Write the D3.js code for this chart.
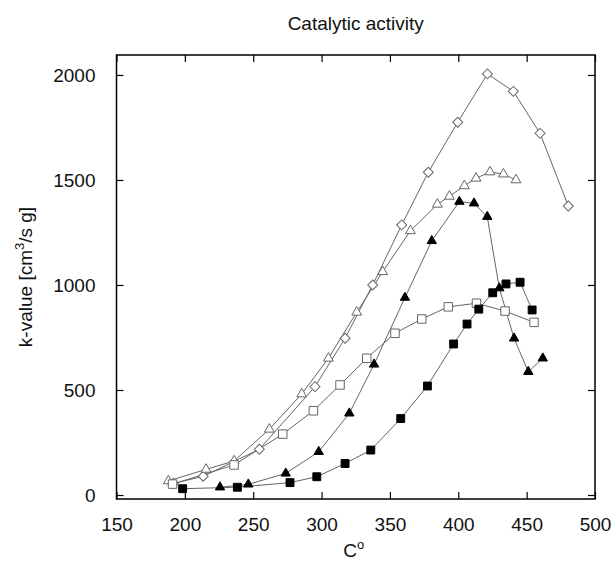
<!DOCTYPE html>
<html><head><meta charset="utf-8">
<script src="https://cdn.jsdelivr.net/npm/d3@7"></script>
<style>body{margin:0;background:#fff}svg text{font-family:"Liberation Sans",Arial,sans-serif;fill:#111}</style>
</head><body>
<svg id="c" width="613" height="561"></svg>
<script>
const xTicks = [150,200,250,300,350,400,450,500];
const yTicks = [0,500,1000,1500,2000];

const diamondX = [191.5,213.4,254.5,295.2,317.2,337.4,358.6,378.1,399.6,421.3,440.3,459.8,480.5];
const diamondY = [55,89,218,516,746,1000,1286,1537,1775,2005,1922,1722,1376];

const openTriX = [187.9,215.5,236,261.8,285.5,305,325.7,344.7,365,384.7,393.5,404.4,413,423.2,433,442.2];
const openTriY = [67,122,162,313,481,651,870,1063,1258,1384,1422,1472,1508,1538,1528,1500];

const openSqX = [191,236,271.6,294,313.5,333,353.7,373.3,392.7,413.3,434.2,455.4];
const openSqY = [52,143,290,401,524,651,770,838,896,913,876,822];

const fillTriX = [225.7,246.4,273.8,297.9,320.3,338.4,361,380.6,400.8,411.5,421.2,430,440.8,451.2,461.8];
const fillTriY = [37,51,103,206,389,622,940,1210,1397,1389,1325,985,746,587,651];

const fillSqX = [198.4,238.4,276.9,296.5,317.2,336,357.9,377.4,396.6,406.4,415,425.2,434.9,445.2,454];
const fillSqY = [30,37,59,87,150,214,364,519,719,814,885,963,1005,1013,881];

const L = 116.5, R = 595, T = 55, B = 499;
const svg = d3.select("#c");
const x = d3.scaleLinear().domain([150,500]).range([L,R]);
const y = d3.scaleLinear().domain([-19,2095]).range([B,T]);

const series = [
  {xs:diamondX, ys:diamondY, sym:d3.symbolSquare, rot:45, size:50, fill:"#fff", stroke:"#666"},
  {xs:openTriX, ys:openTriY, sym:d3.symbolTriangle, rot:0, size:42, fill:"#fff", stroke:"#666"},
  {xs:openSqX, ys:openSqY, sym:d3.symbolSquare, rot:0, size:72, fill:"#fff", stroke:"#666"},
  {xs:fillTriX, ys:fillTriY, sym:d3.symbolTriangle, rot:0, size:38, fill:"#000", stroke:"#000"},
  {xs:fillSqX, ys:fillSqY, sym:d3.symbolSquare, rot:0, size:62, fill:"#000", stroke:"#000"}
];

const line = d3.line().x(d=>x(d[0])).y(d=>y(d[1]));
series.forEach(s=>{
  const pts = s.xs.map((v,i)=>[v,s.ys[i]]);
  svg.append("path").attr("d",line(pts)).attr("fill","none").attr("stroke","#666").attr("stroke-width",1);
});
series.forEach(s=>{
  const pts = s.xs.map((v,i)=>[v,s.ys[i]]);
  svg.append("g").selectAll("path").data(pts).join("path")
    .attr("transform",d=>`translate(${x(d[0])},${y(d[1])}) rotate(${s.rot})`)
    .attr("d",d3.symbol().type(s.sym).size(s.size))
    .attr("fill",s.fill).attr("stroke",s.stroke).attr("stroke-width",1);
});

const tl = 7;
const gB = svg.append("g").attr("transform",`translate(0,${B})`)
  .call(d3.axisBottom(x).tickValues(xTicks).tickSize(-tl).tickPadding(tl+12).tickFormat(d3.format("d")));
const gT = svg.append("g").attr("transform",`translate(0,${T})`)
  .call(d3.axisTop(x).tickValues(xTicks).tickSize(-tl).tickFormat(""));
const gL = svg.append("g").attr("transform",`translate(${L},0)`)
  .call(d3.axisLeft(y).tickValues(yTicks).tickSize(-tl).tickPadding(tl+14).tickFormat(d3.format("d")));
const gR = svg.append("g").attr("transform",`translate(${R},0)`)
  .call(d3.axisRight(y).tickValues(yTicks).tickSize(-tl).tickFormat(""));
[gB,gT,gL,gR].forEach(g=>{
  g.select(".domain").remove();
  g.selectAll(".tick line").attr("stroke","#000").attr("stroke-width",1.2);
  g.selectAll("text").style("font-size","19px").attr("fill","#111");
});
svg.append("rect").attr("x",L).attr("y",T).attr("width",R-L).attr("height",B-T)
  .attr("fill","none").attr("stroke","#000").attr("stroke-width",1.5);

svg.append("text").attr("x",(L+R)/2).attr("y",30).attr("text-anchor","middle")
  .style("font-size","19px").text("Catalytic activity");
const xl = svg.append("text").attr("x",(L+R)/2 - 2).attr("y",557).attr("text-anchor","middle").style("font-size","19px");
xl.append("tspan").text("C");
xl.append("tspan").attr("dy",-8).style("font-size","13px").text("o");
const yl = svg.append("text").attr("transform",`translate(32,${(T+B)/2}) rotate(-90)`).attr("text-anchor","middle").style("font-size","19px");
yl.append("tspan").text("k-value [cm");
yl.append("tspan").attr("dy",-8).style("font-size","13px").text("3");
yl.append("tspan").attr("dy",8).text("/s g]");
</script>
</body></html>
